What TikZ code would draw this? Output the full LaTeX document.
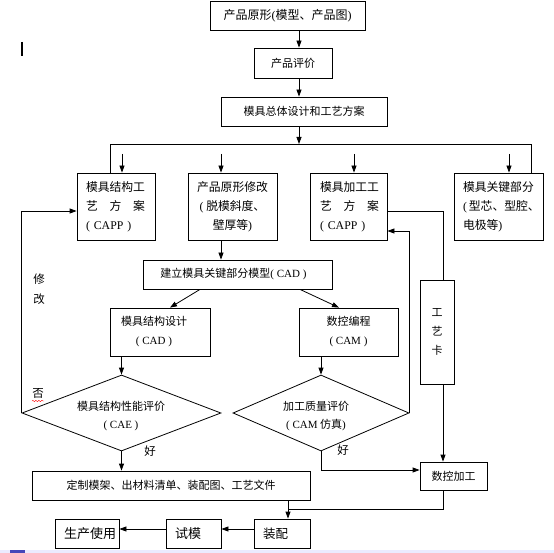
\documentclass[tikz,border=0pt]{standalone}
\usepackage{fontspec}
\setmainfont{Noto Sans CJK SC}
\newfontfamily\tnr{Liberation Serif}
\usetikzlibrary{arrows.meta,shapes.geometric,decorations.pathmorphing}
\begin{document}
\begin{tikzpicture}[x=1pt,y=-1pt,
  box/.style={draw, line width=0.8pt, inner sep=0pt, align=center, font=\fontsize{11}{19}\selectfont},
  lbox/.style={box, align=left},
  big/.style={font=\fontsize{11.8}{19}\selectfont},
  dia/.style={draw, diamond, line width=0.8pt, inner sep=0pt},
  dtext/.style={inner sep=0pt, align=center, font=\fontsize{11}{18}\selectfont},
  conn/.style={line width=0.8pt},
  arr/.style={conn, -{Triangle[length=7pt,width=5pt]}},
  lbl/.style={inner sep=0pt, font=\fontsize{11.5}{14}\selectfont}]
\useasboundingbox (0,0) rectangle (554,553);
\fill[blue!8] (0,550) rectangle (554,553);
\fill[blue!45!gray] (10,550) rectangle (25,553);
\draw[line width=1.6pt] (22,42) -- (22,56);

% boxes
\node[box, minimum width=155pt, minimum height=29pt, font=\fontsize{12}{14}\selectfont] (top) at (287.5,15.5) {产品原形{\tnr(}模型、产品图{\tnr)}};
\node[box, minimum width=78pt, minimum height=30pt] (eval) at (293,63) {产品评价};
\node[box, minimum width=166pt, minimum height=29pt] (overall) at (304,111.5) {模具总体设计和工艺方案};

\node[lbox, big, minimum height=67pt, text width=60pt, inner xsep=9pt] (b1) at (116,206.5)
  {\mbox{模具结构工}\\\makebox[5em][s]{艺\hfill 方\hfill 案}\\\mbox{\tnr( CAPP )}};
\node[box, big, minimum width=89pt, minimum height=67pt] (b2) at (232.5,206.5)
  {\mbox{产品原形修改}\\\mbox{{\tnr(} 脱模斜度、}\\\mbox{壁厚等{\tnr)}}};
\node[lbox, big, minimum height=67pt, text width=57pt, inner xsep=10pt] (b3) at (348.5,206.5)
  {\mbox{模具加工工}\\\makebox[5em][s]{艺\hfill 方\hfill 案}\\\mbox{\tnr( CAPP )}};
\node[lbox, big, minimum height=67pt, text width=71pt, inner xsep=9pt] (b4) at (498.5,206.5)
  {\mbox{模具关键部分}\\\mbox{{\tnr(}\,型芯、型腔、}\\\mbox{电极等{\tnr)}}};

\node[box, minimum width=189pt, minimum height=29pt] (cad) at (237.5,274.5) {\mbox{建立模具关键部分模型{\tnr( CAD )}}\hspace*{8pt}};
\node[box, minimum width=100pt, minimum height=48pt] (sd) at (160,332) {模具结构设计\hspace*{12pt}\\{\tnr( CAD )}\hspace*{12pt}};
\node[box, minimum width=99pt, minimum height=48pt] (nc) at (348.5,332) {数控编程\\{\tnr( CAM )}};
\node[dia, minimum width=199pt, minimum height=76pt] (d1) at (121.5,413) {};
\node[dtext] (d1t) at (121,416) {模具结构性能评价\\{\tnr( CAE )}};
\node[dia, minimum width=176pt, minimum height=76pt] (d2) at (321,413) {};
\node[dtext] (d2t) at (316,416) {加工质量评价\\{\tnr( CAM} 仿真{\tnr)}};
\node[box, minimum width=34pt, minimum height=104pt] (card) at (437,332) {工\\艺\\卡};
\node[box, minimum width=67pt, minimum height=28pt] (ncm) at (453.5,476) {数控加工};
\node[box, minimum width=278pt, minimum height=29pt] (doc) at (171,485.5) {定制模架、出材料清单、装配图、工艺文件};
\node[lbox, minimum height=29pt, text width=46pt, inner xsep=5pt, font=\fontsize{12.5}{14}\selectfont] (asm) at (282,533.5) {\hspace*{4pt}装配};
\node[lbox, minimum height=29pt, text width=45pt, inner xsep=5pt, font=\fontsize{13}{14}\selectfont] (try) at (193.5,533.5) {\hspace*{4pt}试模};
\node[lbox, minimum height=29pt, text width=54pt, inner xsep=5pt, font=\fontsize{13}{14}\selectfont] (use) at (87,533.5) {\hspace*{4pt}生产使用};

% labels
\node[lbl] (xiu) at (39,279) {修};
\node[lbl] (gai) at (39,299) {改};
\node[lbl] (fou) at (38,393) {否};
\draw[red, line width=0.4pt, decorate, decoration={snake, amplitude=0.7pt, segment length=3pt}] (32,401) -- (44,401);
\node[lbl] (hao1) at (150,451) {好};
\node[lbl] (hao2) at (343,450) {好};

% coordinates
\coordinate (xm) at (299,0);
\coordinate (busL) at (110,144);
\coordinate (busR) at (531,144);
\coordinate (s1) at (122,154);
\coordinate (s2) at (221,154);
\coordinate (s3) at (354,154);
\coordinate (s4) at (509,154);
\coordinate (xb2) at (221,0);
\coordinate (p1) at (200,0);
\coordinate (p2) at (170,0);
\coordinate (p3) at (300,0);
\coordinate (p4) at (339,0);
\coordinate (yfb1) at (0,211);
\coordinate (yfb2) at (0,231);
\coordinate (xcard) at (443,0);
\coordinate (y470) at (0,470);
\coordinate (jn) at (288,509);
\coordinate (y529) at (0,529);

% connectors
\draw[arr] (top.south -| xm) -- (eval.north -| xm);
\draw[arr] (eval.south -| xm) -- (overall.north -| xm);
\draw[arr] (overall.south -| xm) -- (busL -| xm);
\draw[conn] (b1.north -| busL) -- (busL) -- (busR) -- (b4.north -| busR);
\draw[arr] (s1) -- (b1.north -| s1);
\draw[arr] (s2) -- (b2.north -| s2);
\draw[arr] (s3) -- (b3.north -| s3);
\draw[arr] (s4) -- (b4.north -| s4);
\draw[arr] (b2.south -| xb2) -- (cad.north -| xb2);
\draw[arr] (cad.south -| p1) -- (sd.north -| p2);
\draw[arr] (cad.south -| p3) -- (nc.north -| p4);
\draw[arr] (sd.south -| d1) -- (d1.north);
\draw[arr] (nc.south -| d2) -- (d2.north);
\draw[arr] (d1.south) -- (doc.north -| d1);
\draw[arr] (d1.west) |- (b1.west |- yfb1);
\draw[arr] (d2.east) |- (b3.east |- yfb2);
\draw[conn] (b3.east |- yfb1) -| (card.north -| xcard);
\draw[arr] (card.south -| xcard) -- (ncm.north -| xcard);
\draw[arr] (d2.south) |- (ncm.west |- y470);
\draw[conn] (ncm.south -| xcard) |- (jn);
\draw[arr] (doc.south -| jn) -- (asm.north -| jn);
\draw[arr] (asm.west |- y529) -- (try.east |- y529);
\draw[arr] (try.west |- y529) -- (use.east |- y529);
\end{tikzpicture}
\end{document}
